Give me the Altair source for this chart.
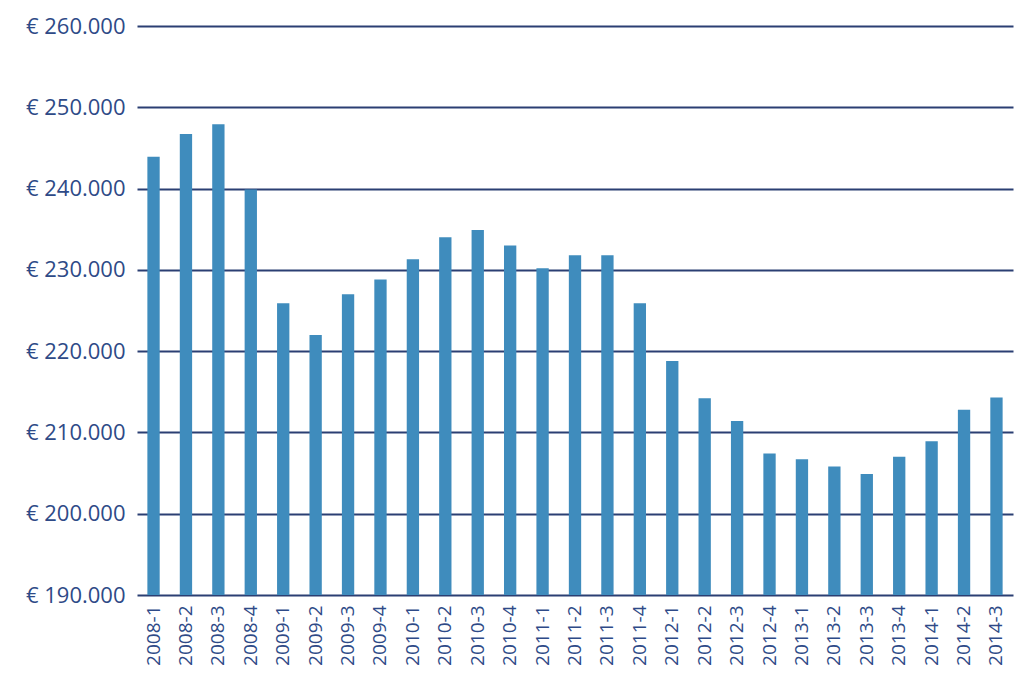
import altair as alt
import pandas as pd

quarters = ["2008-1","2008-2","2008-3","2008-4","2009-1","2009-2","2009-3","2009-4",
            "2010-1","2010-2","2010-3","2010-4","2011-1","2011-2","2011-3","2011-4",
            "2012-1","2012-2","2012-3","2012-4","2013-1","2013-2","2013-3","2013-4",
            "2014-1","2014-2","2014-3"]
prices = [243900, 246700, 247900, 239900, 225900, 222000, 227000, 228800,
          231300, 234000, 234900, 233000, 230200, 231800, 231800, 225900,
          218800, 214200, 211400, 207400, 206700, 205800, 204900, 207000,
          208900, 212800, 214300]

df = pd.DataFrame({"kwartaal": quarters, "prijs": prices})

txt = "#2e4a87"
grid = "#2b3f73"
bar = "#3f8cbd"
font = "Open Sans"

chart = alt.Chart(df).mark_bar(color=bar).encode(
    x=alt.X("kwartaal:N", sort=quarters, title=None,
            scale=alt.Scale(paddingInner=0.62, paddingOuter=0.32),
            axis=alt.Axis(labelAngle=-90, labelFontSize=19, labelColor=txt, labelFont=font,
                          domain=False, ticks=False, labelPadding=10)),
    y=alt.Y("prijs:Q", title=None,
            scale=alt.Scale(domain=[190000, 260000], zero=False, nice=False, clamp=True),
            axis=alt.Axis(values=[190000,200000,210000,220000,230000,240000,250000,260000],
                          labelExpr='"€ " + replace(format(datum.value, ","), ",", ".")',
                          labelFontSize=22, labelColor=txt, labelFont=font,
                          domain=False, ticks=False, labelPadding=12,
                          grid=True, gridColor=grid, gridWidth=2, gridOpacity=1)),
).properties(
    width=876, height=569,
    background="white",
    autosize=alt.AutoSizeParams(type="none"),
    padding={"left": 137, "top": 26, "right": 11, "bottom": 92},
).configure_view(stroke=None)

chart.save("out.html", embed_options={"renderer": "svg", "actions": False})
